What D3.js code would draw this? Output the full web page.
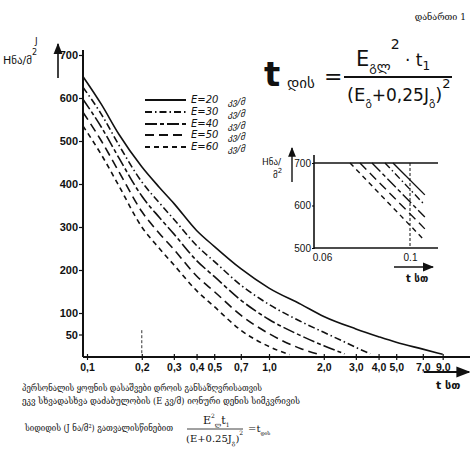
<!DOCTYPE html>
<html><head><meta charset="utf-8">
<script src="https://cdn.jsdelivr.net/npm/d3@7"></script>
<style>
html,body{margin:0;padding:0;background:#fff;}
svg{display:block;}
text{fill:#111;}
</style></head>
<body>
<svg id="c" width="476" height="462"></svg>
<script>
// ---- data ----
const xTicks = [0.1,0.2,0.3,0.4,0.5,0.7,1.0,2.0,3.0,4.0,5.0,7.0,9.0];
const yTicks = [50,100,200,300,400,500,600,700];
const seriesNames = ["E=20","E=30","E=40","E=50","E=60"];
const legendUnit = "კვ/მ";
const tE20 = [0.095,0.12,0.15,0.2,0.25,0.3,0.4,0.5,0.7,1.0,1.5,2.0,3.0,4.0,5.0,7.0,9.0];
const vE20 = [650,585,515,440,392,355,292,255,203,158,120,92,63,45,32,16,4];
const tE30 = [0.095,0.12,0.15,0.2,0.25,0.3,0.4,0.5,0.7,1.0,1.5,2.0,2.5,3.0,3.6];
const vE30 = [625,562,490,405,356,318,257,220,165,120,80,55,36,20,5];
const tE40 = [0.095,0.12,0.15,0.2,0.25,0.3,0.4,0.5,0.7,1.0,1.5,2.0,2.6];
const vE40 = [597,532,460,372,322,284,222,185,130,85,47,24,5];
const tE50 = [0.095,0.12,0.15,0.2,0.25,0.3,0.4,0.5,0.7,1.0,1.5,1.9];
const vE50 = [567,500,428,336,285,248,186,150,95,52,17,3];
const tE60 = [0.095,0.12,0.15,0.2,0.25,0.3,0.4,0.5,0.7,1.0,1.3];
const vE60 = [535,468,395,300,250,212,152,115,60,22,3];
// inset (zoom near t = 0.06..0.1)
const insetXTicks = [0.06,0.1];
const insetYTicks = [500,600,700];
const insetT = [[0.0906,0.109],[0.0865,0.109],[0.0802,0.109],[0.0748,0.109],[0.0706,0.109]];
const insetV = [[700,625],[700,601],[700,573],[700,545],[700,517]];
const captionLines = [
  "პერსონალის ყოფნის დასაშვები დროის განსაზღვრისათვის",
  "ეკვ სხვადასხვა დაძაბულობის (E კვ/მ) იონური დენის სიმკვრივის",
  "სიდიდის (J ნა/მ²) გათვალისწინებით"
];

// ---- styles ----
const dashes = [null, "7,3,1.5,3", "12,3,4,3", "9,5", "5,4"];
const svg = d3.select("#c");
const defs = svg.append("defs");
defs.append("marker").attr("id","arr").attr("viewBox","0 0 10 10").attr("refX",9).attr("refY",5)
  .attr("markerWidth",7).attr("markerHeight",7).attr("orient","auto")
  .append("path").attr("d","M0,1L10,5L0,9z").attr("fill","#111");

const x = d3.scaleLog().domain([0.1,10]).range([87,451]);
const y = d3.scaleLinear().domain([0,700]).range([356,55]);
const nf = "'Liberation Sans Narrow','Liberation Sans',sans-serif";
const ff = "'DejaVu Sans',sans-serif";
const cf = "'DejaVu Serif','DejaVu Sans',serif";

// helper: text built of tspans [str, size, dy]
function rich(xp, yp, parts, fam, extra){
  const t = svg.append("text").attr("x",xp).attr("y",yp).attr("font-family",fam);
  if (extra) extra(t);
  parts.forEach(p=>{ t.append("tspan").attr("font-size",p[1]).attr("dy",p[2]||0).text(p[0]); });
  return t;
}

// axes lines
svg.append("line").attr("x1",83).attr("x2",83).attr("y1",50).attr("y2",357).attr("stroke","#111").attr("stroke-width",2);
svg.append("line").attr("x1",83).attr("x2",470).attr("y1",357).attr("y2",357).attr("stroke","#111").attr("stroke-width",2);

const xa = svg.append("g").attr("transform","translate(0,357)")
  .call(d3.axisBottom(x).tickValues(xTicks).tickSize(3).tickFormat(d=>d3.format(".1f")(d).replace(".",",")));
xa.select(".domain").remove();
xa.selectAll(".tick line").attr("y1",-3).attr("y2",3).attr("stroke","#111").attr("stroke-width",1.2);
xa.selectAll("text").attr("y",7).attr("font-family",nf)
  .attr("font-weight","bold").attr("font-size",10.5).attr("fill","#111");

const ya = svg.append("g").attr("transform","translate(83,0)")
  .call(d3.axisLeft(y).tickValues(yTicks).tickSize(4));
ya.select(".domain").remove();
ya.selectAll(".tick line").attr("stroke","#111").attr("stroke-width",1.2);
ya.selectAll("text").attr("x",-5).attr("font-family",nf)
  .attr("font-weight","bold").attr("font-size",11).attr("fill","#111");

// small dashed mark at 0.2
svg.append("line").attr("x1",x(0.2)).attr("x2",x(0.2)).attr("y1",y(60)).attr("y2",y(5))
  .attr("stroke","#333").attr("stroke-width",1).attr("stroke-dasharray","3,2");

// curves
const allT = [tE20,tE30,tE40,tE50,tE60];
const allV = [vE20,vE30,vE40,vE50,vE60];
const line = d3.line().x(d=>x(d[0])).y(d=>y(d[1])).curve(d3.curveMonotoneX);
allT.forEach((ts,i)=>{
  const pts = ts.map((t,j)=>[t,allV[i][j]]);
  svg.append("path").attr("d",line(pts)).attr("fill","none").attr("stroke","#111")
    .attr("stroke-width",1.6).attr("stroke-dasharray",dashes[i]);
});

// legend
const legY = [100,112,124,135,147];
seriesNames.forEach((n,i)=>{
  svg.append("line").attr("x1",145).attr("x2",186).attr("y1",legY[i]).attr("y2",legY[i])
    .attr("stroke","#111").attr("stroke-width",2).attr("stroke-dasharray",dashes[i]);
  svg.append("text").attr("x",191).attr("y",legY[i]+3).attr("font-family",ff)
    .attr("font-style","italic").attr("font-size",10).text(n);
  svg.append("text").attr("x",228).attr("y",legY[i]+5).attr("font-family",ff)
    .attr("font-style","italic").attr("font-size",9).text(legendUnit);
});

// y label + arrow
svg.append("text").attr("x",35).attr("y",44).attr("font-family",ff).attr("font-size",9).text("J");
rich(3,64,[["Hნა/მ",11],["2",8,-9]],ff);
svg.append("line").attr("x1",58).attr("x2",58).attr("y1",78).attr("y2",44).attr("stroke","#111").attr("stroke-width",1.6).attr("marker-end","url(#arr)");
// x arrow + label
svg.append("line").attr("x1",424).attr("x2",469).attr("y1",372).attr("y2",372).attr("stroke","#111").attr("stroke-width",2).attr("marker-end","url(#arr)");
svg.append("text").attr("x",436).attr("y",389).attr("font-family",ff).attr("font-weight","bold").attr("font-size",11).text("t სთ");

// top-right label
svg.append("text").attr("x",466).attr("y",20).attr("text-anchor","end").attr("font-family",cf).attr("font-size",9).text("დანართი 1");

// formula
svg.append("text").attr("x",264).attr("y",86).attr("font-family",ff).attr("font-weight","bold").attr("font-size",34).text("t");
svg.append("text").attr("x",287).attr("y",88).attr("font-family",ff).attr("font-size",15).text("დის");
svg.append("text").attr("x",324).attr("y",84).attr("font-family",ff).attr("font-size",22).text("=");
rich(356,66,[["E",21],["გლ",13,5],["2",14,-22],[" · t",17,17],["1",12,4]],ff);
svg.append("line").attr("x1",344).attr("x2",452).attr("y1",77).attr("y2",77).attr("stroke","#111").attr("stroke-width",2);
rich(347,101,[["(E",18],["გ",11,4],["+0,25J",17,-4],["გ",11,4],[")",18,-4],["2",13,-13]],ff);

// inset
const ix = d3.scaleLog().domain([0.06,0.1]).range([322,410]);
const iy = d3.scaleLinear().domain([500,700]).range([248,163]);
svg.append("line").attr("x1",314).attr("x2",314).attr("y1",155).attr("y2",249).attr("stroke","#111").attr("stroke-width",1.6);
svg.append("line").attr("x1",314).attr("x2",438).attr("y1",iy(700)).attr("y2",iy(700)).attr("stroke","#111").attr("stroke-width",1.6);
svg.append("line").attr("x1",314).attr("x2",438).attr("y1",iy(500)).attr("y2",iy(500)).attr("stroke","#111").attr("stroke-width",1.6);
svg.append("line").attr("x1",ix(0.1)).attr("x2",ix(0.1)).attr("y1",iy(700)).attr("y2",iy(500)).attr("stroke","#111").attr("stroke-width",1).attr("stroke-dasharray","3,2");
const iya = svg.append("g").attr("transform","translate(314,0)").call(d3.axisLeft(iy).tickValues(insetYTicks).tickSize(2));
iya.select(".domain").remove();
iya.selectAll("text").attr("x",-3).attr("font-family",nf).attr("font-size",10).attr("fill","#111");
const ixa = svg.append("g").attr("transform","translate(0,249)").call(d3.axisBottom(ix).tickValues(insetXTicks).tickSize(0).tickFormat(d=>String(d)));
ixa.select(".domain").remove();
ixa.selectAll("text").attr("y",5).attr("font-family",nf).attr("font-size",10).attr("fill","#111");
const iline = d3.line().x(d=>ix(d[0])).y(d=>iy(d[1]));
insetT.forEach((ts,i)=>{
  const pts = ts.map((t,j)=>[t,insetV[i][j]]);
  svg.append("path").attr("d",iline(pts)).attr("fill","none").attr("stroke","#111").attr("stroke-width",1.4).attr("stroke-dasharray",dashes[i]);
});
svg.append("line").attr("x1",292).attr("x2",292).attr("y1",182).attr("y2",148).attr("stroke","#111").attr("stroke-width",1.4).attr("marker-end","url(#arr)");
svg.append("text").attr("x",262).attr("y",165).attr("font-family",ff).attr("font-size",9).text("Hნა/");
rich(273,178,[["მ",9],["2",7,-5]],ff);
svg.append("line").attr("x1",394).attr("x2",433).attr("y1",267).attr("y2",267).attr("stroke","#111").attr("stroke-width",1.6).attr("marker-end","url(#arr)");
svg.append("text").attr("x",406).attr("y",282).attr("font-family",ff).attr("font-weight","bold").attr("font-size",10).text("t სთ");

// caption
svg.append("text").attr("x",22).attr("y",391).attr("font-family",cf).attr("font-size",9)
  .attr("textLength",240).attr("lengthAdjust","spacingAndGlyphs").text(captionLines[0]);
svg.append("text").attr("x",22).attr("y",404).attr("font-family",cf).attr("font-size",9)
  .attr("textLength",278).attr("lengthAdjust","spacingAndGlyphs").text(captionLines[1]);
svg.append("text").attr("x",25).attr("y",431).attr("font-family",cf).attr("font-size",9)
  .attr("textLength",148).attr("lengthAdjust","spacingAndGlyphs").text(captionLines[2]);
// small formula in caption
rich(203,424,[["E",11],["2",6,-6],["ლ",6,9],["t",11,-3],["1",6,3]],cf);
svg.append("line").attr("x1",187).attr("x2",243).attr("y1",429).attr("y2",429).attr("stroke","#111").attr("stroke-width",0.8);
rich(186,442,[["(E+0.25J",10],["გ",6,3],[")",10,-3],["2",6,-7]],cf);
rich(248,432,[["=t",10],["დის",5,3]],cf);
</script>
</body></html>
